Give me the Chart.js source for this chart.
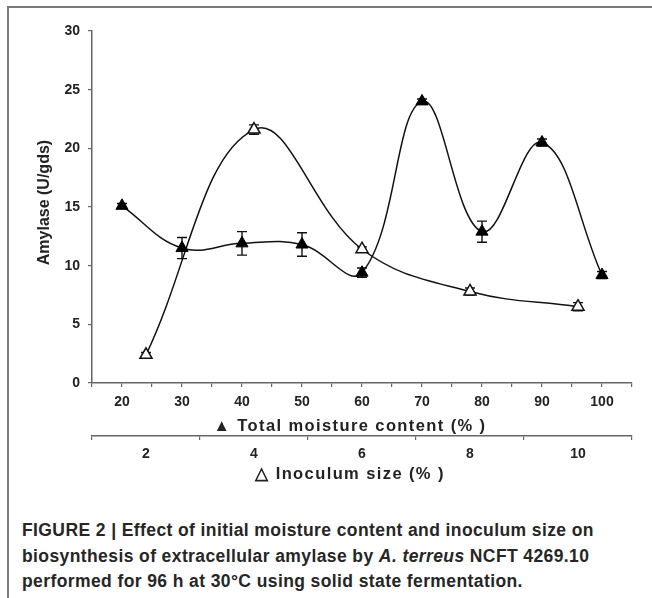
<!DOCTYPE html>
<html>
<head>
<meta charset="utf-8">
<script src="https://cdn.jsdelivr.net/npm/chart.js@4/dist/chart.umd.min.js"></script>
<style>
  html, body { margin: 0; padding: 0; background: #fff; }
  body { width: 652px; height: 598px; position: relative; overflow: hidden; }
  #frame { position: absolute; left: 7px; top: 6px; width: 700px; height: 650px;
           border-left: 2px solid #7a7a7a; border-top: 2px solid #7a7a7a; }
  #wrap { position: absolute; left: 0; top: 0; width: 652px; height: 500px; }
  #caption { position: absolute; left: 22px; top: 518px; width: 630px;
             font-family: "Liberation Sans", Arial, sans-serif; font-weight: bold;
             font-size: 17.5px; letter-spacing: 0.4px; line-height: 25.5px; color: #262626; white-space: nowrap; }
</style>
</head>
<body>
<div id="frame"></div>
<div id="wrap"><canvas id="c" width="652" height="500"></canvas></div>
<div id="caption">FIGURE 2 | Effect of initial moisture content and inoculum size on<br>biosynthesis of extracellular amylase by <i>A. terreus</i> NCFT 4269.10<br>performed for 96 h at 30°C using solid state fermentation.</div>
<script>
// ---- data ----
const moisture = [20, 30, 40, 50, 60, 70, 80, 90, 100];
const moistureAmylase = [15.1, 11.5, 11.9, 11.8, 9.4, 24.0, 12.9, 20.5, 9.2];
const moistureErr = [0.2, 0.9, 1.0, 1.0, 0.4, 0.2, 0.9, 0.3, 0.3];

const inoculum = [2, 4, 6, 8, 10];
const inoculumAmylase = [2.4, 21.6, 11.4, 7.8, 6.5];
const inoculumErr = [0.2, 0.4, 0.2, 0.3, 0.35];

const yTicks = [0, 5, 10, 15, 20, 25, 30];
const moistureTickLabels = [20, 30, 40, 50, 60, 70, 80, 90, 100];
const inoculumTickLabels = [2, 4, 6, 8, 10];

const FONT = '"Liberation Sans", Arial, sans-serif';
const AXIS = '#666';
const TXT = '#222';

const errorBars = {
  id: 'errorBars',
  beforeDatasetsDraw(chart) {
    const ctx = chart.ctx;
    const ys = chart.scales.y;
    ctx.save();
    ctx.strokeStyle = '#111';
    ctx.lineWidth = 1.4;
    chart.data.datasets.forEach((ds, i) => {
      if (!ds.errors) return;
      const meta = chart.getDatasetMeta(i);
      meta.data.forEach((pt, j) => {
        const v = ds.data[j].y, e = ds.errors[j];
        const top = ys.getPixelForValue(v + e);
        const bot = ys.getPixelForValue(v - e);
        const x = pt.x, w = 5;
        ctx.beginPath();
        ctx.moveTo(x, top); ctx.lineTo(x, bot);
        ctx.moveTo(x - w, top); ctx.lineTo(x + w, top);
        ctx.moveTo(x - w, bot); ctx.lineTo(x + w, bot);
        ctx.stroke();
      });
    });
    ctx.restore();
  }
};

// wider letter spacing for the two horizontal axis titles
const titleSpacing = {
  id: 'titleSpacing',
  beforeDraw(chart) {
    ['x', 'x2'].forEach(id => {
      const s = chart.scales[id];
      if (!s || s._spacedTitle) return;
      const orig = s.drawTitle;
      s.drawTitle = function () {
        const ctx = this.ctx;
        ctx.save();
        try { ctx.letterSpacing = '1.4px'; } catch (e) {}
        orig.call(this);
        ctx.restore();
      };
      s._spacedTitle = true;
    });
  }
};

new Chart(document.getElementById('c'), {
  type: 'line',
  data: {
    datasets: [
      {
        label: 'Total moisture content',
        data: moisture.map((m, i) => ({ x: m, y: moistureAmylase[i] })),
        errors: moistureErr,
        xAxisID: 'x', yAxisID: 'y',
        borderColor: '#111', borderWidth: 1.5, tension: 0.4,
        pointStyle: 'triangle', pointRadius: 7, pointBackgroundColor: '#000',
        pointBorderColor: '#000', pointBorderWidth: 1
      },
      {
        label: 'Inoculum size',
        data: inoculum.map((v, i) => ({ x: v, y: inoculumAmylase[i] })),
        errors: inoculumErr,
        xAxisID: 'x2', yAxisID: 'y',
        borderColor: '#111', borderWidth: 1.5, tension: 0.4,
        pointStyle: 'triangle', pointRadius: 7, pointBackgroundColor: '#fff',
        pointBorderColor: '#111', pointBorderWidth: 1.5
      }
    ]
  },
  options: {
    responsive: false,
    animation: false,
    events: [],
    layout: { padding: { top: 31, right: 20, bottom: 16, left: 0 } },
    plugins: { legend: { display: false }, tooltip: { enabled: false } },
    scales: {
      y: {
        position: 'left', min: 0, max: 30,
        afterBuildTicks: s => { s.ticks = yTicks.map(v => ({ value: v })); },
        afterFit: s => { s.width = 92; },
        ticks: { padding: 8, color: TXT, font: { family: FONT, size: 14, weight: 'bold' } },
        grid: { drawOnChartArea: false, tickLength: 4, color: AXIS, lineWidth: 1.2 },
        border: { display: true, color: AXIS, width: 1.5 },
        title: { display: true, text: '  Amylase (U/gds)', color: TXT, padding: { top: 35, bottom: 0 },
                 font: { family: FONT, size: 16, weight: 'bold' } }
      },
      x: {
        type: 'linear', position: 'bottom', min: 15, max: 105,
        afterFit: s => { s.height = 53; },
        ticks: { stepSize: 5, padding: 7, autoSkip: false, maxRotation: 0, color: TXT,
                 font: { family: FONT, size: 14, weight: 'bold' },
                 callback: v => moistureTickLabels.includes(v) ? String(v) : '' },
        grid: { drawOnChartArea: false, tickLength: 4, color: AXIS, lineWidth: 1.2 },
        border: { display: true, color: AXIS, width: 1.5 },
        title: { display: true, text: '\u25B2 Total moisture content (% )    ', color: TXT,
                 padding: { top: 0, bottom: 0 }, font: { family: FONT, size: 16.5, weight: 'bold', lineHeight: 1.1 } }
      },
      x2: {
        type: 'linear', position: 'bottom', min: 1, max: 11,
        afterFit: s => { s.height = 48; },
        ticks: { stepSize: 1, padding: 6, autoSkip: false, maxRotation: 0, color: TXT,
                 font: { family: FONT, size: 14, weight: 'bold' },
                 callback: v => inoculumTickLabels.includes(v) ? String(v) : '' },
        grid: { drawOnChartArea: false, tickLength: 4, lineWidth: 1.2,
                color: c => (c.tick && c.tick.value % 2 === 1) ? AXIS : 'rgba(0,0,0,0)' },
        border: { display: true, color: AXIS, width: 1.5 },
        title: { display: true, text: '\u25B3 Inoculum size (% )    ', color: TXT,
                 padding: { top: 0, bottom: 0 }, font: { family: FONT, size: 16.5, weight: 'bold', lineHeight: 1.1 } }
      }
    }
  },
  plugins: [errorBars, titleSpacing]
});
</script>
</body>
</html>
